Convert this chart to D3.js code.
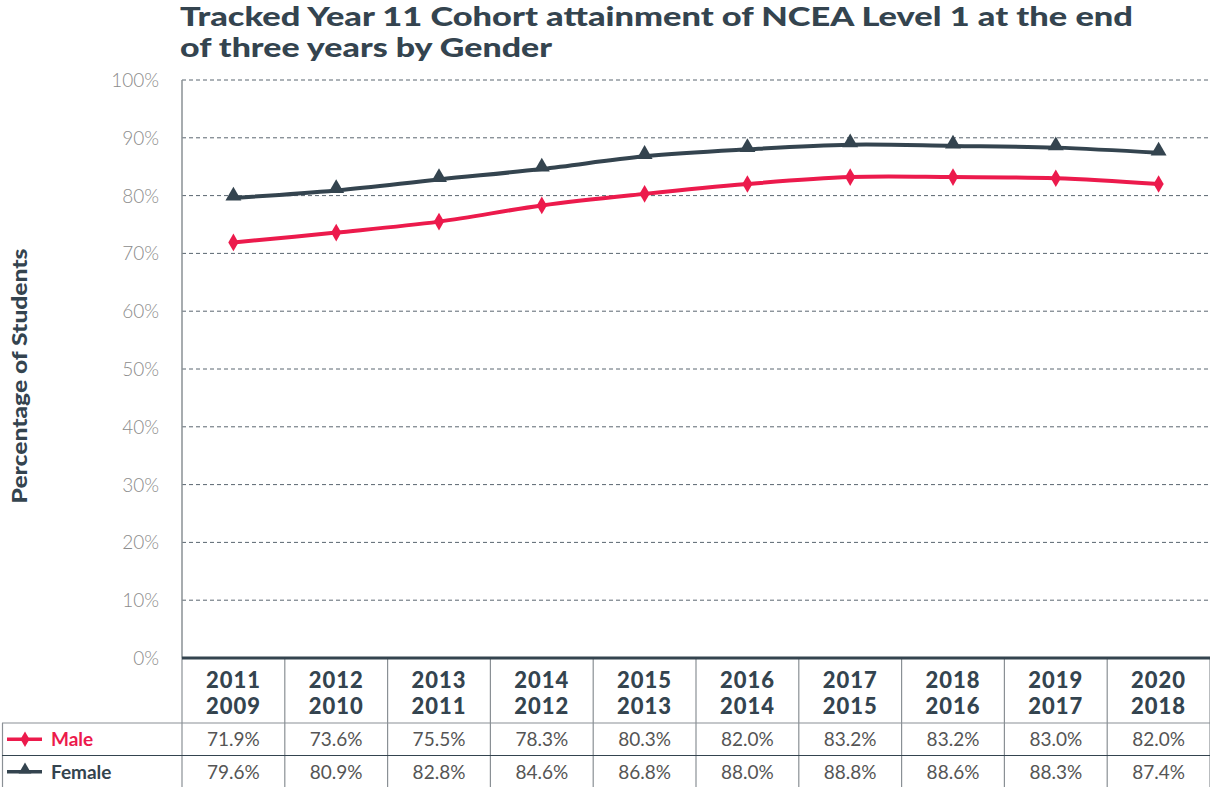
<!DOCTYPE html>
<html>
<head>
<meta charset="utf-8">
<script src="https://cdn.jsdelivr.net/npm/d3@7"></script>
<style>
  body { margin: 0; background: #fff; }
  svg { display: block; }
</style>
</head>
<body>
<div></div>
<script>
var width = 1210,
    height = 787;

// data
var years = ["2011", "2012", "2013", "2014", "2015", "2016", "2017", "2018", "2019", "2020"];
var cohortYears = ["2009", "2010", "2011", "2012", "2013", "2014", "2015", "2016", "2017", "2018"];
var male = [71.9, 73.6, 75.5, 78.3, 80.3, 82.0, 83.2, 83.2, 83.0, 82.0];
var female = [79.6, 80.9, 82.8, 84.6, 86.8, 88.0, 88.8, 88.6, 88.3, 87.4];
var yTicks = [0, 10, 20, 30, 40, 50, 60, 70, 80, 90, 100];

var series = [
  { name: "Male", values: male, color: "#ec1a4c", symbol: d3.symbolDiamond },
  { name: "Female", values: female, color: "#34444f", symbol: d3.symbolTriangle }
];

var dark = "#34444f",
    grey = "#8a9095";

var plotLeft = 182, plotRight = 1210, plotTop = 80, plotBottom = 658;
var headerBottom = 723, rowH = 32.5;

var svg = d3.select("div").append("svg")
    .attr("width", width)
    .attr("height", height);

var x = d3.scaleBand().domain(years).range([plotLeft, plotRight]);
var y = d3.scaleLinear().domain([0, 100]).range([plotBottom, plotTop]);

// title
var title = svg.append("g").attr("fill", dark)
    .style("font-family", "Lato, sans-serif").style("font-weight", 900).attr("font-size", 26);
title.append("text").attr("x", 180).attr("y", 26)
    .attr("textLength", 953).attr("lengthAdjust", "spacingAndGlyphs")
    .text("Tracked Year 11 Cohort attainment of NCEA Level 1 at the end");
title.append("text").attr("x", 180).attr("y", 57)
    .attr("textLength", 372).attr("lengthAdjust", "spacingAndGlyphs")
    .text("of three years by Gender");

// y axis label
svg.append("text")
    .attr("transform", "translate(27,376) rotate(-90)")
    .attr("text-anchor", "middle")
    .attr("fill", dark)
    .style("font-family", "Lato, sans-serif").style("font-weight", 900)
    .attr("font-size", 21)
    .attr("textLength", 255).attr("lengthAdjust", "spacingAndGlyphs")
    .text("Percentage of Students");

// grid
svg.append("g").selectAll("line").data(yTicks.filter(function (d) { return d > 0; }))
  .enter().append("line")
    .attr("x1", plotLeft).attr("x2", plotRight)
    .attr("y1", function (d) { return y(d); }).attr("y2", function (d) { return y(d); })
    .attr("stroke", "#5a6670").attr("stroke-width", 1).attr("stroke-dasharray", "4,3");

svg.append("g").selectAll("text").data(yTicks)
  .enter().append("text")
    .attr("x", 159).attr("y", function (d) { return y(d) + 7; })
    .attr("text-anchor", "end")
    .attr("fill", "#8c8c8c")
    .style("font-family", "Lato, sans-serif").style("font-weight", 300)
    .attr("font-size", 19)
    .text(function (d) { return d + "%"; });

svg.append("line")
    .attr("x1", plotLeft).attr("x2", plotLeft).attr("y1", plotTop).attr("y2", plotBottom)
    .attr("stroke", grey).attr("stroke-width", 1.5);

// lines
var line = d3.line()
    .x(function (d, i) { return x(years[i]) + x.bandwidth() / 2; })
    .y(function (d) { return y(d); })
    .curve(d3.curveCatmullRom.alpha(0.5));

series.forEach(function (ser) {
  var tri = ser.symbol === d3.symbolTriangle;
  svg.append("path").attr("d", line(ser.values))
      .attr("fill", "none").attr("stroke", ser.color).attr("stroke-width", 4);
  svg.append("g").selectAll("path").data(ser.values).enter().append("path")
      .attr("d", d3.symbol().type(ser.symbol).size(tri ? 110 : 90))
      .attr("transform", function (d, i) {
        return "translate(" + (x(years[i]) + x.bandwidth() / 2) + "," + (y(d) - (tri ? 2 : 0)) + ")";
      })
      .attr("fill", ser.color);
});

// table
var table = svg.append("g");
var rowY = [headerBottom, headerBottom + rowH, headerBottom + 2 * rowH];

// vertical column lines
table.selectAll("line.col").data(years.concat(["end"])).enter().append("line")
    .attr("x1", function (d, i) { return plotLeft + i * x.bandwidth(); })
    .attr("x2", function (d, i) { return plotLeft + i * x.bandwidth(); })
    .attr("y1", plotBottom).attr("y2", rowY[2] - 0.5)
    .attr("stroke", grey).attr("stroke-width", 1.2);

table.append("line").attr("x1", 2.5).attr("x2", 2.5).attr("y1", rowY[0]).attr("y2", rowY[2])
    .attr("stroke", grey).attr("stroke-width", 1.2);

[rowY[0], rowY[1], rowY[2] - 0.5].forEach(function (yy) {
  table.append("line").attr("x1", 2).attr("x2", plotRight).attr("y1", yy).attr("y2", yy)
      .attr("stroke", yy === rowY[1] ? dark : grey).attr("stroke-width", 1.2);
});

// axis base
svg.append("line")
    .attr("x1", plotLeft).attr("x2", plotRight).attr("y1", plotBottom).attr("y2", plotBottom)
    .attr("stroke", dark).attr("stroke-width", 3);

// headers
var head = table.append("g").attr("fill", dark).attr("text-anchor", "middle")
    .style("font-family", "Lato, sans-serif").style("font-weight", 900).attr("font-size", 22);
head.selectAll("text.a").data(years).enter().append("text")
    .attr("x", function (d) { return x(d) + x.bandwidth() / 2; }).attr("y", 688)
    .attr("letter-spacing", 1)
    .text(function (d) { return d; });
head.selectAll("text.b").data(cohortYears).enter().append("text")
    .attr("x", function (d, i) { return x(years[i]) + x.bandwidth() / 2; }).attr("y", 714)
    .attr("letter-spacing", 1)
    .text(function (d) { return d; });

// values and legend
series.forEach(function (ser, j) {
  var cy = rowY[j] + rowH / 2;
  table.append("g").selectAll("text").data(ser.values).enter().append("text")
      .attr("x", function (d, i) { return x(years[i]) + x.bandwidth() / 2; })
      .attr("y", cy + 7)
      .attr("text-anchor", "middle")
      .attr("fill", "#555")
      .style("font-family", "Lato, sans-serif").attr("font-size", 19)
      .text(function (d) { return d.toFixed(1) + "%"; });

  table.append("line").attr("x1", 7).attr("x2", 42).attr("y1", cy).attr("y2", cy)
      .attr("stroke", ser.color).attr("stroke-width", 3.5);
  table.append("path")
      .attr("d", d3.symbol().type(ser.symbol).size(70))
      .attr("transform", "translate(25," + (cy - (j ? 2 : 0)) + ")")
      .attr("fill", ser.color);
  table.append("text").attr("x", 51).attr("y", cy + 7)
      .attr("fill", ser.color)
      .style("font-family", "Lato, sans-serif").style("font-weight", 700)
      .attr("font-size", 19)
      .text(ser.name);
});
</script>
</body>
</html>
